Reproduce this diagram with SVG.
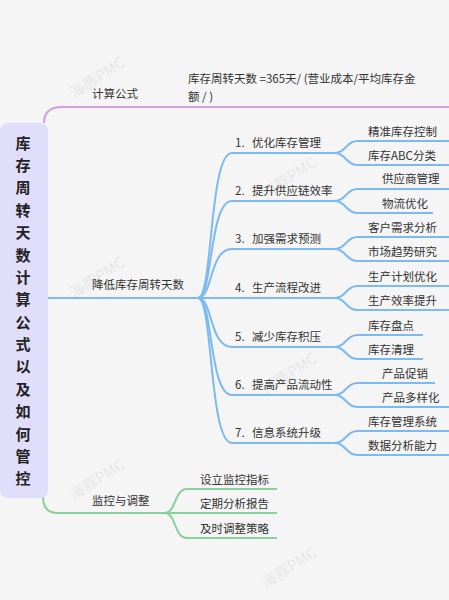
<svg xmlns="http://www.w3.org/2000/svg" width="449" height="600" viewBox="0 0 449 600">
<style>
.t{font-family:"Noto Sans CJK SC","Noto Sans",sans-serif;font-size:11.5px;fill:#333}
.r{font-family:"Noto Sans CJK SC","Noto Sans",sans-serif;font-size:15px;font-weight:bold;fill:#222}
.wm{font-family:"Noto Sans CJK SC","Noto Sans",sans-serif;font-size:15px;fill:#000;opacity:0.06}
.p{fill:none;stroke:#d29fe2;stroke-width:2}
.b{fill:none;stroke:#7dbaf0;stroke-width:2}
.g{fill:none;stroke:#86d19c;stroke-width:2}
</style>
<rect width="449" height="600" fill="#f5f5f5"/>
<g id="connectors">
<path class="p" d="M44,123 Q44,107 62,107 H449"/>
<path class="b" d="M48,298 H335"/>
<path class="b" d="M198,298 C213,298 209,153 232,153 H335"/>
<path class="b" d="M198,298 C213,298 209,201 232,201 H335"/>
<path class="b" d="M198,298 C213,298 209,249 232,249 H335"/>
<path class="b" d="M198,298 C213,298 209,347 232,347 H335"/>
<path class="b" d="M198,298 C213,298 209,395 232,395 H335"/>
<path class="b" d="M198,298 C213,298 209,443 232,443 H335"/>
<path class="b" d="M335,153 C346,153 346,141 357,141 H449 M335,153 C346,153 346,165 357,165 H449"/>
<path class="b" d="M335,201 C346,201 346,189 357,189 H449 M335,201 C346,201 346,213 357,213 H433"/>
<path class="b" d="M335,249 C346,249 346,237 357,237 H449 M335,249 C346,249 346,261 357,261 H449"/>
<path class="b" d="M335,298 C346,298 346,286 357,286 H449 M335,298 C346,298 346,310 357,310 H449"/>
<path class="b" d="M335,347 C346,347 346,335 357,335 H423 M335,347 C346,347 346,359 357,359 H423"/>
<path class="b" d="M335,395 C346,395 346,383 357,383 H435 M335,395 C346,395 346,407 357,407 H449"/>
<path class="b" d="M335,443 C346,443 346,431 357,431 H449 M335,443 C346,443 346,455 357,455 H449"/>
<path class="g" d="M43,497 Q43,513 58,513 H277"/>
<path class="g" d="M165,513 C176,513 174,489 187,489 H277 M165,513 C176,513 174,538 187,538 H277"/>
</g>
<g id="watermark">
<text class="wm" transform="translate(100,82) rotate(-33)" text-anchor="middle">海豚PMC</text>
<text class="wm" transform="translate(100,282) rotate(-33)" text-anchor="middle">海豚PMC</text>
<text class="wm" transform="translate(100,484) rotate(-33)" text-anchor="middle">海豚PMC</text>
<text class="wm" transform="translate(292,182) rotate(-33)" text-anchor="middle">海豚PMC</text>
<text class="wm" transform="translate(292,378) rotate(-33)" text-anchor="middle">海豚PMC</text>
<text class="wm" transform="translate(292,572) rotate(-33)" text-anchor="middle">海豚PMC</text>
</g>
<g id="root">
<rect x="0" y="123" width="48" height="375" rx="8" fill="#e0defa"/>
<text class="r" text-anchor="middle"><tspan x="23" y="148.5">库</tspan><tspan x="23" dy="22.4">存</tspan><tspan x="23" dy="22.4">周</tspan><tspan x="23" dy="22.4">转</tspan><tspan x="23" dy="22.4">天</tspan><tspan x="23" dy="22.4">数</tspan><tspan x="23" dy="22.4">计</tspan><tspan x="23" dy="22.4">算</tspan><tspan x="23" dy="22.4">公</tspan><tspan x="23" dy="22.4">式</tspan><tspan x="23" dy="22.4">以</tspan><tspan x="23" dy="22.4">及</tspan><tspan x="23" dy="22.4">如</tspan><tspan x="23" dy="22.4">何</tspan><tspan x="23" dy="22.4">管</tspan><tspan x="23" dy="22.4">控</tspan></text>
</g>
<g id="formula-label"><text class="t" x="92" y="98">计算公式</text></g>
<g id="formula"><text class="t" x="188" y="83">库存周转天数 =365天/ (营业成本/平均库存金</text><text class="t" x="188" y="101">额 / )</text></g>
<g id="reduce"><text class="t" x="92" y="289">降低库存周转天数</text></g>
<g id="b1"><text class="t" x="235" y="147">1.<tspan x="252">优化库存管理</tspan></text></g>
<g id="b2"><text class="t" x="235" y="195">2.<tspan x="252">提升供应链效率</tspan></text></g>
<g id="b3"><text class="t" x="235" y="243">3.<tspan x="252">加强需求预测</tspan></text></g>
<g id="b4"><text class="t" x="235" y="292">4.<tspan x="252">生产流程改进</tspan></text></g>
<g id="b5"><text class="t" x="235" y="341">5.<tspan x="252">减少库存积压</tspan></text></g>
<g id="b6"><text class="t" x="235" y="389">6.<tspan x="252">提高产品流动性</tspan></text></g>
<g id="b7"><text class="t" x="235" y="437">7.<tspan x="252">信息系统升级</tspan></text></g>
<g id="l1a"><text class="t" x="368" y="136">精准库存控制</text></g>
<g id="l1b"><text class="t" x="368" y="160">库存ABC分类</text></g>
<g id="l2a"><text class="t" x="382" y="183">供应商管理</text></g>
<g id="l2b"><text class="t" x="382" y="208">物流优化</text></g>
<g id="l3a"><text class="t" x="368" y="232">客户需求分析</text></g>
<g id="l3b"><text class="t" x="368" y="256">市场趋势研究</text></g>
<g id="l4a"><text class="t" x="368" y="281">生产计划优化</text></g>
<g id="l4b"><text class="t" x="368" y="305">生产效率提升</text></g>
<g id="l5a"><text class="t" x="368" y="330">库存盘点</text></g>
<g id="l5b"><text class="t" x="368" y="354">库存清理</text></g>
<g id="l6a"><text class="t" x="382" y="378">产品促销</text></g>
<g id="l6b"><text class="t" x="382" y="402">产品多样化</text></g>
<g id="l7a"><text class="t" x="368" y="426">库存管理系统</text></g>
<g id="l7b"><text class="t" x="368" y="450">数据分析能力</text></g>
<g id="monitor"><text class="t" x="92" y="505">监控与调整</text></g>
<g id="m1"><text class="t" x="200" y="484">设立监控指标</text></g>
<g id="m2"><text class="t" x="200" y="508">定期分析报告</text></g>
<g id="m3"><text class="t" x="200" y="533">及时调整策略</text></g>
</svg>
